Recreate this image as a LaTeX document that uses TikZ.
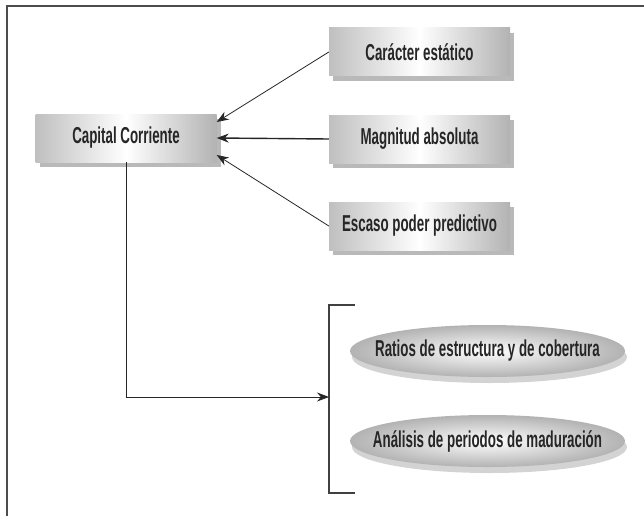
\documentclass[tikz,border=0pt]{standalone}
\usepackage{fontspec}
\newfontfamily\condfont{Liberation Sans}[FakeStretch=0.58]
\usepackage{tikz}
\usetikzlibrary{shapes.geometric, arrows.meta, positioning, shadows}
\tikzset{
    rectbox/.style={rectangle, minimum width=181pt, minimum height=48pt, text centered, left color=gray!50, right color=gray!60, middle color=white, text=black!85, font=\condfont\bfseries\fontsize{23}{26}\selectfont, drop shadow={shadow xshift=4pt, shadow yshift=-5pt, opacity=0.55}},
    ovalbox/.style={ellipse, minimum width=275pt, minimum height=52pt, inner xsep=-20pt, inner ysep=0pt, text centered, inner color=white, outer color=gray!60, text=black!85, font=\condfont\bfseries\fontsize{23}{26}\selectfont, drop shadow={shadow xshift=2pt, shadow yshift=-6pt, opacity=0.35}},
    arrow/.style={line width=0.8pt, black!85, -{Stealth[length=12pt, width=9pt]}},
    bracket/.style={line width=1.1pt, black!75},
    frameline/.style={line width=2pt, gray!60!black}
}

\begin{document}
\begin{tikzpicture}[x=1pt, y=-1pt, node distance=87pt]
    \useasboundingbox (0,0) rectangle (644,516);
    \draw [frameline] (644,6) -- (7,6) -- (7,516);

    \node (car) [rectbox] at (419.5,52) {Carácter estático};
    \node (mag) [rectbox, below of=car] {Magnitud absoluta};
    \node (esc) [rectbox, below of=mag] {Escaso poder predictivo};
    \node (cap) [rectbox] at (126,138) {Capital Corriente};

    \node (rat) [ovalbox] at (487.5,351) {Ratios de estructura y de cobertura};
    \node (ana) [ovalbox, below of=rat, node distance=90pt] {Análisis de periodos de maduración};

    \coordinate (brtop) at (329,305);
    \coordinate (brbot) at (329,493);
    \coordinate (brin) at (329,397);

    \draw [arrow] (car.west) -- ([yshift=16pt]cap.east);
    \draw [arrow, line width=1.4pt] (mag.west) -- (cap.east);
    \draw [arrow] (esc.west) -- ([yshift=-17pt]cap.east);
    \draw [bracket] ([xshift=26pt]brtop) -- (brtop) -- (brbot) -- ([xshift=26pt]brbot);
    \draw [arrow] (cap.south) |- (brin);
\end{tikzpicture}
\end{document}
